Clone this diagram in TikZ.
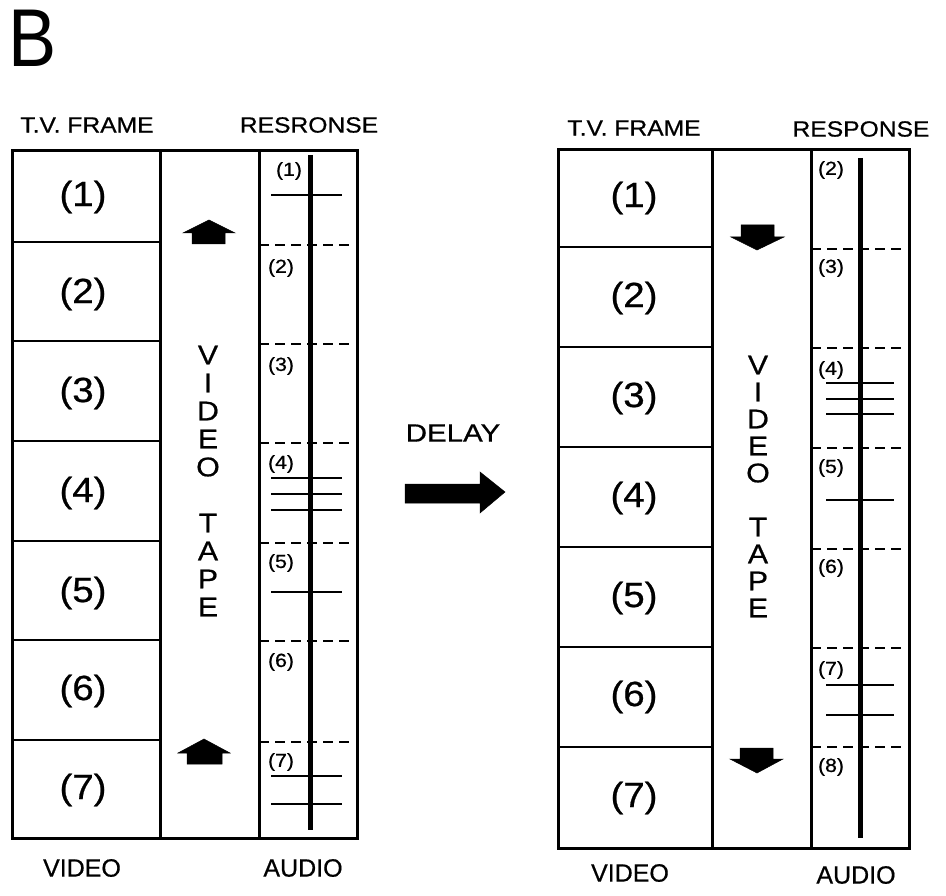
\documentclass[tikz,border=0pt]{standalone}
\usepackage{fontspec}
\setmainfont{Liberation Sans}[FakeBold=0.6]
\newfontfamily\plainfont{Liberation Sans}
\newcommand{\wide}[2]{\scalebox{#1}[1]{#2}}
\begin{document}
\begin{tikzpicture}[x=1pt,y=-1pt,
  frame/.style={line width=3pt},
  div/.style={line width=2.6pt},
  dashline/.style={line width=2.8pt,dash pattern=on 10pt off 6pt},
  tick/.style={line width=2.8pt},
  spine/.style={line width=5pt},
  biglab/.style={inner sep=0pt,font=\fontsize{35}{35}\selectfont},
  smalllab/.style={inner sep=0pt,font=\fontsize{19}{19}\selectfont},
  head/.style={inner sep=0pt,font=\fontsize{22}{22}\selectfont},
  foot/.style={inner sep=0pt,font=\fontsize{25}{25}\selectfont},
  tapeletter/.style={inner sep=0pt,font=\fontsize{27}{27}\selectfont},
  blk/.style={fill=black,draw=black,line width=0.5pt}]
\useasboundingbox (0,0) rectangle (946,896);
\node[inner sep=0pt,font=\plainfont\fontsize{82}{82}\selectfont] (B) at (33,38) {\wide{0.88}{B}};

% ---------------- left panel ----------------
\node[head] (ltv) at (87,125) {\wide{1.12}{T.V. FRAME}};
\node[head] (lres) at (309,125) {\wide{1.12}{RESRONSE}};
\draw[frame] (12,151) rectangle (357,838);
\draw[frame] (160,151) -- (160,838);
\draw[frame] (259,151) -- (259,838);
\foreach \y in {242,341,441,541,640,740}{\draw[div] (12,\y) -- (160,\y);}
\foreach \t/\y in {1/197,2/294,3/393,4/493,5/593,6/691,7/790}{
  \node[biglab] (lf\t) at (83,\y) {\wide{1.1}{(\t)}};}
% tape
\foreach \l/\y [count=\i] in {V/355,I/383,D/411,E/439,O/467,T/523,A/551,P/579,E/607}{
  \node[tapeletter] (lt\i) at (208,\y) {\wide{1.12}{\l}};}
\fill[blk] (209,220) -- (235,233) -- (225,233) -- (225,244) -- (192,244) -- (192,233) -- (183,233) -- cycle;
\fill[blk] (204,739) -- (230,753) -- (222,753) -- (222,764) -- (187,764) -- (187,753) -- (178,753) -- cycle;
% audio
\foreach \y in {245,344,443,543,641,742}{\draw[dashline] (259,\y) -- (352,\y);}
\draw[spine] (310,155) -- (310,830);
\foreach \t/\x/\y in {1/289/171,2/281/268,3/281/366,4/281/464,5/281/563,6/281/662,7/281/762}{
  \node[smalllab] (la\t) at (\x,\y) {\wide{1.12}{(\t)}};}
\foreach \y in {195,478,494,510,592,776,804}{\draw[tick] (271,\y) -- (342,\y);}
\node[foot] (lvid) at (82,868) {VIDEO};
\node[foot] (laud) at (303,868) {AUDIO};

% ---------------- delay ----------------
\node[inner sep=0pt,font=\fontsize{25}{25}\selectfont] (delay) at (453,433) {\wide{1.18}{DELAY}};
\fill[blk] (405,484) -- (480,484) -- (480,472) -- (505,492) -- (480,513) -- (480,503) -- (405,503) -- cycle;

% ---------------- right panel ----------------
\node[head] (rtv) at (634,128) {\wide{1.12}{T.V. FRAME}};
\node[head] (rres) at (861,129) {\wide{1.12}{RESPONSE}};
\draw[frame] (558,150) rectangle (909,848);
\draw[frame] (712,150) -- (712,848);
\draw[frame] (811,150) -- (811,848);
\foreach \y in {247,347,447,547,647,747}{\draw[div] (558,\y) -- (712,\y);}
\foreach \t/\y in {1/198,2/298,3/398,4/498,5/598,6/697,7/798}{
  \node[biglab] (rf\t) at (634,\y) {\wide{1.1}{(\t)}};}
\foreach \l/\y [count=\i] in {V/365,I/392,D/419,E/446,O/473,T/527,A/554,P/581,E/608}{
  \node[tapeletter] (rt\i) at (758,\y) {\wide{1.12}{\l}};}
\fill[blk] (741,225) -- (774,225) -- (774,237) -- (784,237) -- (757,250) -- (731,237) -- (741,237) -- cycle;
\fill[blk] (740,748) -- (773,748) -- (773,759) -- (783,759) -- (757,773) -- (730,759) -- (740,759) -- cycle;
\foreach \y in {249,348,448,549,648,747}{\draw[dashline] (811,\y) -- (903,\y);}
\draw[spine] (860,158) -- (860,838);
\foreach \t/\y in {2/170,3/268,4/370,5/468,6/568,7/670,8/767}{
  \node[smalllab] (ra\t) at (831,\y) {\wide{1.12}{(\t)}};}
\foreach \y in {383,399,414,500,685,715}{\draw[tick] (826,\y) -- (894,\y);}
\node[foot] (rvid) at (630,873) {VIDEO};
\node[foot] (raud) at (856,875) {AUDIO};
\end{tikzpicture}
\end{document}
